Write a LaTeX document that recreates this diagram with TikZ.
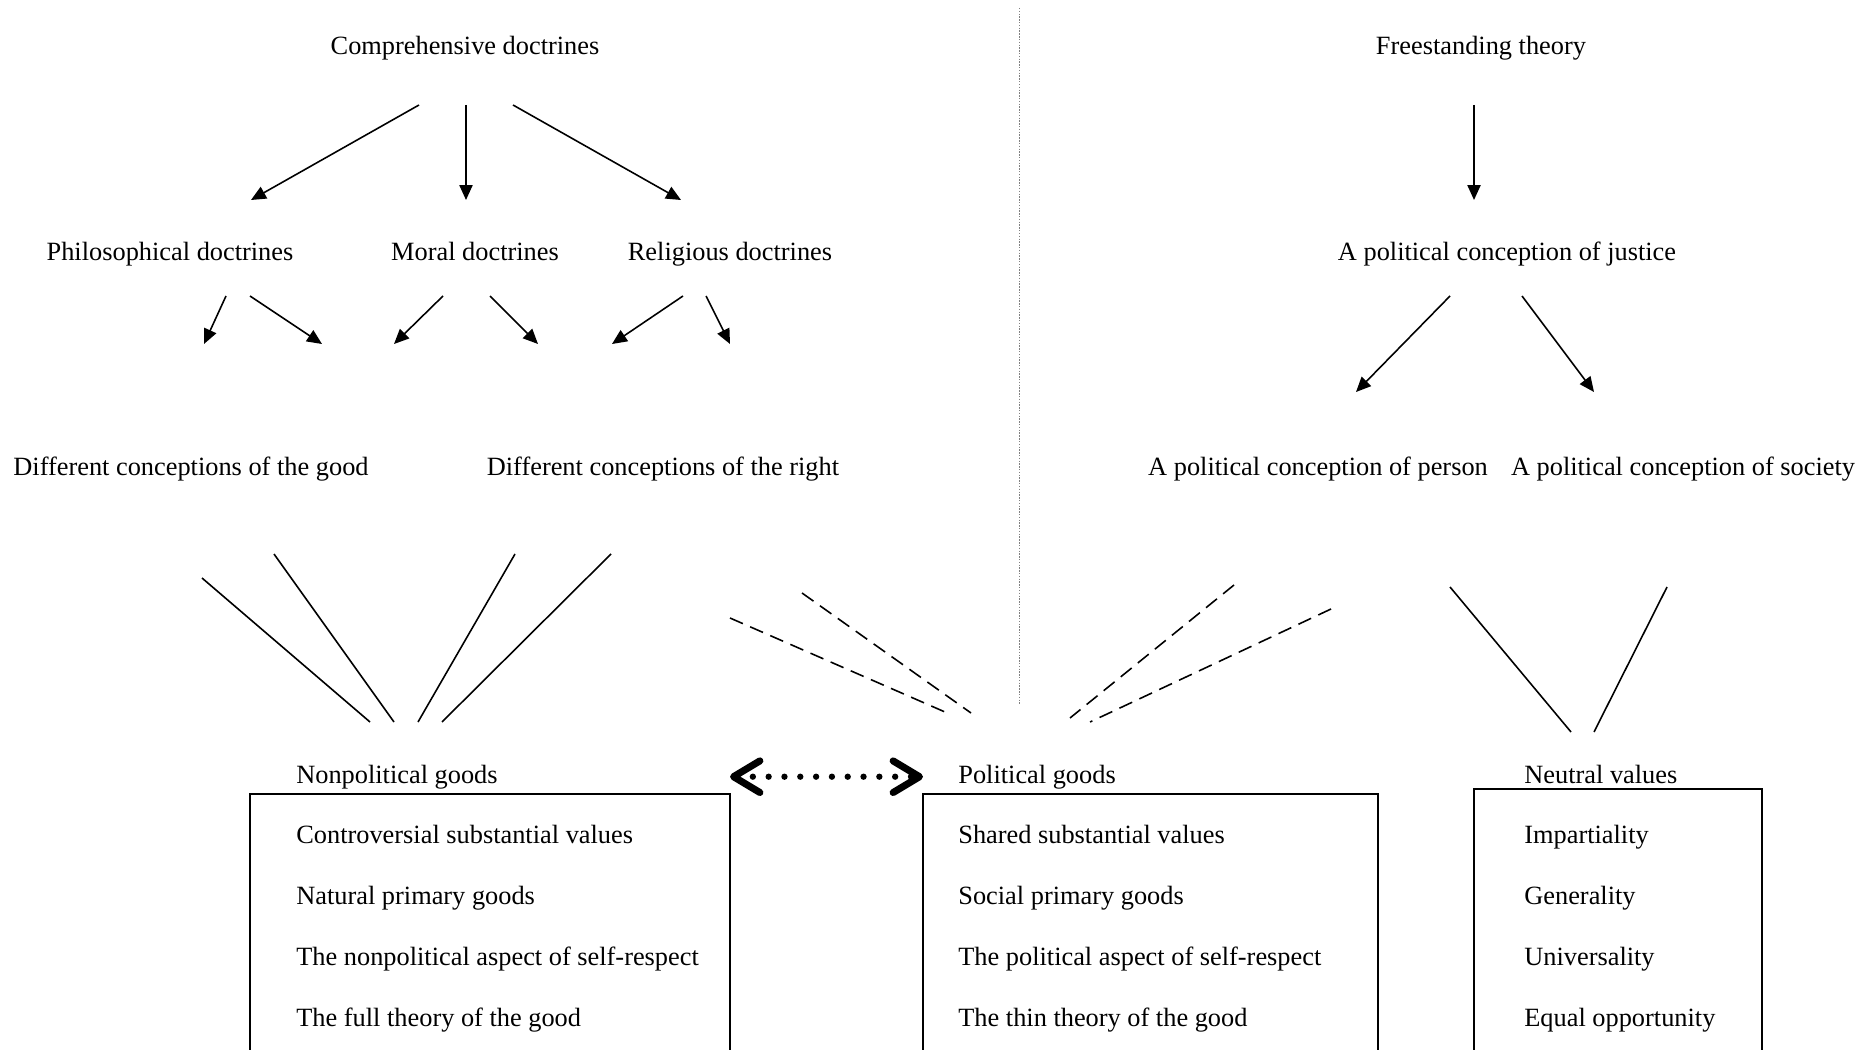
\documentclass[tikz,border=0pt]{standalone}
\usepackage{fontspec}
\setmainfont{Liberation Serif}
\usetikzlibrary{arrows.meta}

\tikzset{
    every node/.style={font=\fontsize{15pt}{18pt}\selectfont, inner sep=0pt},
    arr/.style={-{Triangle[length=8.5pt, width=7.5pt]}, line width=0.9pt},
    link/.style={line width=0.9pt},
    dashlink/.style={line width=0.9pt, dash pattern=on 8pt off 4.5pt},
    divider/.style={gray, line width=0.5pt, dash pattern=on 0.8pt off 0.8pt},
    goodsbox/.style={line width=1pt},
    exchange/.style={line width=3.6pt, dash pattern=on 0pt off 9pt, line cap=round,
        {Straight Barb[length=15pt, width=18pt, line width=4pt, round]}-{Straight Barb[length=15pt, width=18pt, line width=4pt, round]}},
}

\begin{document}
\begin{tikzpicture}[x=0.02cm, y=-0.02cm]
    \useasboundingbox (0, 0) rectangle (1868, 1050);
    \clip (0, 0) rectangle (1868, 1050);

    % headings and doctrines
    \node [anchor=base] (comp)    at (465, 55)   {Comprehensive doctrines};
    \node [anchor=base] (free)    at (1481, 55)  {Freestanding theory};
    \node [anchor=base] (phil)    at (170, 261)  {Philosophical doctrines};
    \node [anchor=base] (moral)   at (475, 261)  {Moral doctrines};
    \node [anchor=base] (relig)   at (730, 261)  {Religious doctrines};
    \node [anchor=base] (justice) at (1507, 261) {A political conception of justice};
    \node [anchor=base] (good)    at (191, 475)  {Different conceptions of the good};
    \node [anchor=base] (right)   at (663, 475)  {Different conceptions of the right};
    \node [anchor=base] (person)  at (1318, 475) {A political conception of person};
    \node [anchor=base] (society) at (1683, 475) {A political conception of society};

    % divider
    \coordinate (div-top) at (1019, 8);
    \coordinate (div-bot) at (1019, 704);
    \draw [divider] (div-top) -- (div-bot);

    % arrows
    \foreach \sx/\sy/\ex/\ey [count=\i] in {
        419/105/251/200, 466/105/466/200, 513/105/681/200,
        226/296/204/344, 250/296/322/344, 443/296/394/344,
        490/296/538/344, 683/296/612/344, 706/296/730/344,
        1474/105/1474/200, 1450/296/1356/392, 1522/296/1594/392}
    {
        \coordinate (arr\i-s) at (\sx, \sy);
        \coordinate (arr\i-e) at (\ex, \ey);
        \draw [arr] (arr\i-s) -- (arr\i-e);
    }

    % solid lines
    \foreach \sx/\sy/\ex/\ey [count=\i] in {
        202/578/370/722, 274/554/394/722, 515/554/418/722, 611/554/442/722,
        1450/587/1571/732, 1667/587/1594/732}
    {
        \coordinate (lk\i-s) at (\sx, \sy);
        \coordinate (lk\i-e) at (\ex, \ey);
        \draw [link] (lk\i-s) -- (lk\i-e);
    }

    % dashed lines
    \foreach \sx/\sy/\ex/\ey [count=\i] in {
        730/618/945/712, 802/593/971/713, 1234/585/1070/718, 1331/609/1090/722}
    {
        \coordinate (dl\i-s) at (\sx, \sy);
        \coordinate (dl\i-e) at (\ex, \ey);
        \draw [dashlink] (dl\i-s) -- (dl\i-e);
    }

    % boxes
    \draw [goodsbox] (250, 794) coordinate (np-nw) rectangle (730, 1100) coordinate (np-se);
    \draw [goodsbox] (923, 794) coordinate (p-nw) rectangle (1378, 1100) coordinate (p-se);
    \draw [goodsbox] (1474, 789) coordinate (n-nw) rectangle (1762, 1100) coordinate (n-se);

    \node [anchor=base west] (nplabel) at (296, 783)  {Nonpolitical goods};
    \node [anchor=base west] (plabel)  at (958, 783)  {Political goods};
    \node [anchor=base west] (nlabel)  at (1524, 783) {Neutral values};

    \foreach \t [count=\i] in {Controversial substantial values, Natural primary goods,
        The nonpolitical aspect of self-respect, The full theory of the good}
        \node [anchor=base west] (np\i) at (296, {843 + 61.3*(\i-1)}) {\t};
    \foreach \t [count=\i] in {Shared substantial values, Social primary goods,
        The political aspect of self-respect, The thin theory of the good}
        \node [anchor=base west] (p\i) at (958, {843 + 61.3*(\i-1)}) {\t};
    \foreach \t [count=\i] in {Impartiality, Generality, Universality, Equal opportunity}
        \node [anchor=base west] (n\i) at (1524, {843 + 61.3*(\i-1)}) {\t};

    \draw [exchange] (np-se |- nplabel) -- (p-nw |- plabel);
\end{tikzpicture}
\end{document}
